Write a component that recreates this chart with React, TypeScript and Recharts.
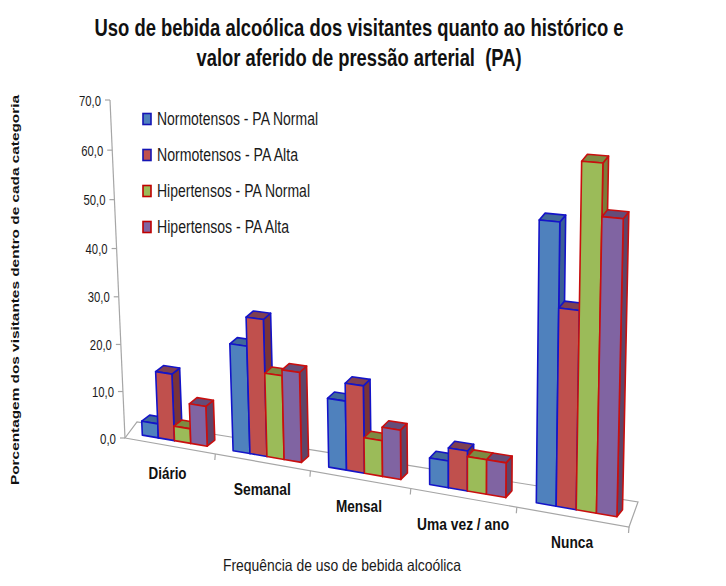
import React from "react";
import { BarChart, Bar, XAxis, YAxis, Legend, Customized } from "recharts";

const categories = ["Diário", "Semanal", "Mensal", "Uma vez / ano", "Nunca"];
const normoNormal = [3, 22.2, 14, 5.3, 53.3];
const normoAlta = [14.1, 28.1, 17.6, 7.9, 37.6];
const hiperNormal = [3.1, 17.2, 7.2, 6.8, 64.5];
const hiperAlta = [8.4, 18.4, 9.9, 6.8, 55];
const valueTicks = [0, 10, 20, 30, 40, 50, 60, 70];
const seriesNames = [
  "Normotensos - PA Normal",
  "Normotensos - PA Alta",
  "Hipertensos - PA Normal",
  "Hipertensos - PA Alta",
];

const data = categories.map((name, i) => ({
  name,
  a: normoNormal[i],
  b: normoAlta[i],
  c: hiperNormal[i],
  d: hiperAlta[i],
}));

const FONT = "'Liberation Sans', Arial, sans-serif";
const PLOT = { left: 120, top: 100, w: 500, h: 340 };
const YMAX = 70;

type Pt = [number, number];
const A: Pt = [125, 438];
const B: Pt = [629, 527];
const D: Pt = [638, 142];
const C: Pt = [110, 100];

function homography(p0: Pt, p1: Pt, p2: Pt, p3: Pt) {
  const dx1 = p1[0] - p2[0], dx2 = p3[0] - p2[0], sx = p0[0] - p1[0] + p2[0] - p3[0];
  const dy1 = p1[1] - p2[1], dy2 = p3[1] - p2[1], sy = p0[1] - p1[1] + p2[1] - p3[1];
  const den = dx1 * dy2 - dx2 * dy1;
  const g = (sx * dy2 - dx2 * sy) / den;
  const h = (dx1 * sy - sx * dy1) / den;
  const a = p1[0] - p0[0] + g * p1[0], b = p3[0] - p0[0] + h * p3[0], c = p0[0];
  const d = p1[1] - p0[1] + g * p1[1], e = p3[1] - p0[1] + h * p3[1], f = p0[1];
  return (u: number, v: number): Pt => {
    const w = g * u + h * v + 1;
    return [(a * u + b * v + c) / w, (d * u + e * v + f) / w];
  };
}
const H = homography(A, B, D, C);
const lerp = (p: number, q: number, t: number) => p + (q - p) * t;
const U = (x: number) => (x - PLOT.left) / PLOT.w;
const V = (y: number) => (PLOT.top + PLOT.h - y) / PLOT.h;

const barPoint = (u: number, v: number): Pt => {
  const p = H(u, v);
  return [p[0] + lerp(5, 4, u), p[1] + lerp(-5, -7.5, u)];
};
const barDepth = (u: number): Pt => [lerp(8, 5.5, u), lerp(-6, -7, u)];
const floorDepth = (u: number): Pt => [lerp(12, 9, u), lerp(-16, -25, u)];

const path = (pts: Pt[]) =>
  "M" + pts.map((p) => `${p[0].toFixed(2)},${p[1].toFixed(2)}`).join("L") + "Z";

const makeBar = (side: string, top: string) => (props: any) => {
  const { x, y, width, height, fill, stroke } = props;
  const u0 = U(x), u1 = U(x + width), v0 = V(y + height), v1 = V(y);
  const bl = barPoint(u0, v0), br = barPoint(u1, v0), tr = barPoint(u1, v1), tl = barPoint(u0, v1);
  const d0 = barDepth(u0), d1 = barDepth(u1);
  const back = (p: Pt, d: Pt): Pt => [p[0] + d[0], p[1] + d[1]];
  return (
    <g stroke={stroke} strokeWidth={1.6} strokeLinejoin="round">
      <path d={path([br, tr, back(tr, d1), back(br, d1)])} fill={side} />
      <path d={path([tl, tr, back(tr, d1), back(tl, d0)])} fill={top} />
      <path d={path([bl, br, tr, tl])} fill={fill} />
    </g>
  );
};

const Squeezed = ({ x, y, w, size, bold, color, anchor, rotate, children }: any) => (
  <text
    x={x}
    y={y}
    fontFamily={FONT}
    fontSize={size}
    fontWeight={bold ? 700 : 400}
    fill={color || "#1a1a1a"}
    textAnchor={anchor || "start"}
    textLength={w}
    lengthAdjust="spacingAndGlyphs"
    transform={rotate ? `rotate(${rotate} ${x} ${y})` : undefined}
    style={{ whiteSpace: "pre" }}
  >
    {children}
  </text>
);

const catLabelStyle: Record<string, { w: number; dx: number; dy: number }> = {
  "Diário": { w: 38, dx: -2, dy: 33 },
  Semanal: { w: 57, dx: 0, dy: 33 },
  Mensal: { w: 46, dx: -1, dy: 33 },
  "Uma vez / ano": { w: 92, dx: 0, dy: 32 },
  Nunca: { w: 42, dx: 0, dy: 31 },
};

const XTick = (props: any) => {
  const { payload } = props;
  const band = PLOT.w / categories.length;
  const uc = U(payload.coordinate);
  const c = H(uc, 0);
  const e = H(U(payload.coordinate + band / 2), 0);
  const st = catLabelStyle[payload.value];
  return (
    <g>
      <line x1={e[0]} y1={e[1]} x2={e[0] - 0.5} y2={e[1] + 6} stroke="#a6a6a6" strokeWidth={1.2} />
      <Squeezed x={c[0] + st.dx} y={c[1] + st.dy} w={st.w} size={17} bold anchor="middle" color="#111">
        {payload.value}
      </Squeezed>
    </g>
  );
};

const YTick = (props: any) => {
  const { payload } = props;
  const p = H(0, payload.value / YMAX);
  return (
    <g>
      <line x1={p[0] - 5} y1={p[1]} x2={p[0]} y2={p[1]} stroke="#a6a6a6" strokeWidth={1.2} />
      <Squeezed x={p[0] - 9} y={p[1] + 5.5} w={payload.value === 0 ? 16 : 22} size={15} anchor="end">
        {payload.value.toFixed(1).replace(".", ",")}
      </Squeezed>
    </g>
  );
};

const Frame = () => {
  const bd = floorDepth(1), ad = floorDepth(0);
  const A2: Pt = [A[0] + ad[0], A[1] + ad[1]];
  const B2: Pt = [B[0] + bd[0], B[1] + bd[1]];
  return (
    <g>
      <path d={path([A, B, B2, A2])} fill="none" stroke="#a6a6a6" strokeWidth={1.2} />
      <line x1={A[0]} y1={A[1]} x2={C[0]} y2={C[1]} stroke="#a6a6a6" strokeWidth={1.2} />
      <Squeezed x={359} y={36} w={529} size={23} bold anchor="middle" color="#111">
        Uso de bebida alcoólica dos visitantes quanto ao histórico e
      </Squeezed>
      <Squeezed x={359} y={66} w={325} size={23} bold anchor="middle" color="#111">
        valor aferido de pressão arterial  (PA)
      </Squeezed>
      <Squeezed x={342} y={571} w={238} size={16.5} anchor="middle">
        Frequência de uso de bebida alcoólica
      </Squeezed>
      <Squeezed x={19} y={290} w={390} size={11.5} bold anchor="middle" rotate={-90} color="#111">
        Porcentagem dos visitantes dentro de cada categoria
      </Squeezed>
    </g>
  );
};

const swatchBorders = ["#1414b4", "#1414b4", "#c00000", "#c00000"];
const legendWidths = [161, 141, 153, 132];

const LegendBox = (props: any) => (
  <svg width={190} height={140} style={{ display: "block" }}>
    {(props.payload || []).map((entry: any) => {
      const i = seriesNames.indexOf(entry.value);
      const cy = 9 + i * 36;
      return (
        <g key={entry.value}>
          <rect x={1} y={cy - 5.5} width={8} height={11} fill={entry.color} stroke={swatchBorders[i]} strokeWidth={1.6} />
          <Squeezed x={15} y={cy + 6} w={legendWidths[i]} size={17.5}>
            {entry.value}
          </Squeezed>
        </g>
      );
    })}
  </svg>
);

export default function App() {
  return (
    <div style={{ position: "absolute", left: 0, top: 0, width: 726, height: 586, background: "#fff" }}>
      <BarChart
        width={726}
        height={586}
        data={data}
        margin={{ top: PLOT.top, left: 60, right: 726 - PLOT.left - PLOT.w, bottom: 116 }}
        barGap={0}
        barCategoryGap="14%"
      >
        <Customized component={Frame} />
        <XAxis dataKey="name" height={30} axisLine={false} tickLine={false} tick={<XTick />} interval={0} />
        <YAxis width={60} domain={[0, YMAX]} ticks={valueTicks} axisLine={false} tickLine={false} tick={<YTick />} />
        <Legend
          layout="vertical"
          align="center"
          verticalAlign="middle"
          itemSorter={null as any}
          content={<LegendBox />}
          wrapperStyle={{ left: 142, top: 110, width: 190 }}
        />
        <Bar dataKey="a" name={seriesNames[0]} fill="#4f81bd" stroke="#1414c8" isAnimationActive={false} shape={makeBar("#3a5f96", "#41699a")} />
        <Bar dataKey="b" name={seriesNames[1]} fill="#c0504d" stroke="#1414c8" isAnimationActive={false} shape={makeBar("#7a3338", "#7f3f52")} />
        <Bar dataKey="c" name={seriesNames[2]} fill="#9bbb59" stroke="#c80f0f" isAnimationActive={false} shape={makeBar("#7a7c3a", "#7d8a42")} />
        <Bar dataKey="d" name={seriesNames[3]} fill="#8064a2" stroke="#c80f0f" isAnimationActive={false} shape={makeBar("#5f4468", "#654c78")} />
      </BarChart>
    </div>
  );
}
